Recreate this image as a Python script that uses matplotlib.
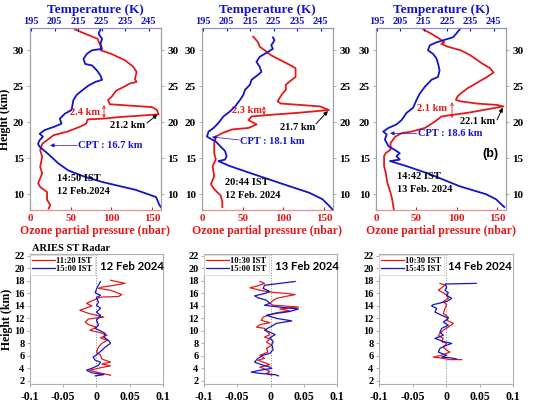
import matplotlib
matplotlib.use("Agg")
import matplotlib.pyplot as plt

plt.rcParams['font.family'] = ['Liberation Serif', 'DejaVu Serif']
plt.rcParams['font.weight'] = 'bold'

RED = '#e41a1a'
BLUE = '#1414c8'
SP = '#a0a0a0'

# ---------------- top panels: ozone (nbar) and temperature (K) profiles ----------------
p1_oz_h = [32.9, 31.6, 30.5, 30.0, 29.5, 28.6, 27.7, 27.0, 26.0, 25.6, 25.4, 24.9, 24.4, 23.5, 23.1, 22.5,
           22.1, 21.7, 21.1, 20.7, 20.5, 20.4, 19.8, 19.4, 18.7, 18.2, 17.5, 17.0, 16.1, 15.2, 13.8, 12.9,
           11.5, 11.0, 10.3, 9.2, 8.5, 8.0]
p1_oz = [55, 83, 87, 87, 100, 117, 127, 131, 129, 131, 123, 115, 106, 100, 96, 98,
         150, 156, 158, 108, 90, 71, 69, 62, 46, 29, 21, 15, 12.5, 15, 12.5, 15,
         10, 12.5, 21, 21, 25, 23]
p1_t_h = [32.9, 32.3, 31.6, 30.9, 30.2, 30.0, 29.5, 28.8, 28.1, 27.9, 27.2, 26.5, 25.9, 25.6, 25.1, 24.4,
          23.8, 23.1, 21.7, 21.2, 20.5, 19.8, 19.4, 18.9, 18.4, 18.0, 17.5, 17.0, 16.6, 15.6, 14.3, 13.3,
          12.4, 11.7, 10.6, 9.6, 8.5, 8.0]
p1_t = [224.5, 223.7, 225.2, 224.5, 225.2, 220.9, 218.7, 217.3, 218.0, 220.9, 223.0, 224.5, 225.2, 222.3, 219.4, 216.6,
        214.4, 213.0, 212.2, 209.4, 207.2, 207.9, 205.0, 200.7, 198.6, 200.0, 198.6, 197.9, 198.6, 202.2, 206.5, 210.8,
        218.0, 225.2, 239.5, 248.2, 249.6, 250.7]

p2_oz_h = [31.9, 31.1, 30.5, 30.0, 29.3, 28.6, 27.9, 27.5, 26.3, 25.6, 25.2, 24.5, 24.0, 23.3, 22.9, 22.6,
           22.2, 21.7, 21.3, 21.0, 20.8, 20.3, 19.7, 19.2, 19.0, 18.5, 18.0, 17.1, 15.7, 14.8, 13.9, 12.5,
           11.4, 10.7, 9.8, 8.9, 8.2]
p2_oz = [63, 69, 71, 77, 85, 97, 109, 115, 115, 107, 103, 103, 99, 95, 93, 97,
         145, 156, 117, 81, 61, 57, 67, 57, 37, 25, 17, 15, 15, 17, 13, 15,
         11, 15, 23, 25, 25]
p2_t_h = [31.8, 31.4, 30.7, 30.2, 29.5, 29.1, 28.4, 27.7, 27.0, 26.6, 25.9, 25.2, 24.5, 23.8, 23.1, 22.2,
          21.5, 20.8, 19.9, 19.2, 18.7, 18.0, 17.6, 17.4, 16.7, 16.0, 15.3, 14.8, 14.6, 13.9, 12.8, 11.4,
          10.2, 9.3, 8.4, 7.9]
p2_t = [224.7, 225.4, 224.0, 224.7, 221.2, 219.1, 217.7, 219.1, 219.8, 218.4, 215.6, 214.9, 212.8, 212.1, 210.7, 208.6,
        206.4, 203.6, 201.5, 199.4, 197.3, 196.6, 198.7, 200.1, 202.2, 204.3, 205.0, 204.3, 201.5, 206.4, 216.3, 229.0,
        240.2, 245.8, 248.6, 250.0]

p3_oz_h = [32.9, 32.3, 31.6, 31.1, 30.9, 30.5, 30.0, 29.3, 28.2, 27.5, 26.9, 26.3, 25.9, 25.2, 24.7, 24.0,
           23.6, 23.1, 22.9, 22.6, 22.4, 22.2, 21.7, 21.3, 21.0, 20.8, 20.1, 19.2, 18.7, 18.5, 18.0, 17.1,
           16.2, 15.7, 15.3, 13.9, 13.0, 11.6, 10.2, 9.3, 7.9]
p3_oz = [58.5, 68.6, 78.7, 84.8, 80.8, 88.9, 105, 117, 131, 141.5, 145.6, 137.5, 131.4, 121, 113, 105,
         101, 99, 105, 125, 150, 157.7, 133, 113, 93, 81, 73, 60.5, 44, 32, 24, 18,
         18, 12, 10, 10, 12, 14, 18, 20, 22]
p3_t_h = [32.9, 32.3, 31.8, 31.6, 31.1, 30.7, 30.0, 29.5, 28.9, 28.2, 27.2, 26.3, 25.9, 24.9, 24.0, 23.1,
          22.0, 21.3, 20.3, 19.7, 19.2, 18.7, 18.3, 17.6, 16.7, 16.0, 15.7, 15.3, 14.8, 14.6, 13.9, 12.8,
          11.1, 10.0, 9.3, 8.2]
p3_t = [230.4, 228.9, 227.5, 225.4, 220.4, 217.6, 216.8, 219.0, 220.4, 221.1, 221.8, 221.1, 218.3, 215.4, 213.3, 211.9,
        210.4, 207.6, 205.5, 203.3, 199.8, 197.6, 199.1, 198.3, 199.8, 203.3, 204.7, 203.3, 204.7, 200.5, 207.6, 217.5,
        230.4, 241.7, 246.0, 249.6]

top_times = ['14:50 IST\n12 Feb.2024', '20:44 IST\n12 Feb. 2024', '14:42 IST\n13 Feb. 2024']
layer_labels = ['2.4 km', '2.3 km', '2.1 km']
peak_labels = ['21.2 km', '21.7 km', '22.1 km']
cpt_labels = ['CPT : 16.7 km', 'CPT : 18.1 km', 'CPT : 18.6 km']
peak_points = [(158, 21.2), (156, 21.7), (157.7, 22.2)]
height_ticks = [10, 15, 20, 25, 30]
oz_ticks = [0, 50, 100, 150]
t_ticks = [195, 205, 215, 225, 235, 245]

# ---------------- bottom panels: ARIES ST radar ----------------
b1_red_h = [18.1, 17.6, 17.2, 17.0, 16.8, 16.5, 16.1, 15.8, 15.5, 15.4, 14.9, 14.4, 14.0, 13.3, 12.8, 12.5,
            12.2, 11.9, 11.4, 11.0, 10.6, 10.1, 9.7, 9.3, 8.9, 8.5, 8.0, 7.4, 6.6, 6.1, 5.5, 5.0,
            4.7, 4.4, 4.1, 3.7, 3.4, 2.9]
b1_red = [0.021, 0.043, 0.021, 0.008, 0.003, 0.021, 0.031, 0.038, 0.033, 0.006, -0.005, -0.015, -0.007, -0.025, -0.012, 0.0,
          0.011, -0.012, -0.017, -0.012, 0.0, -0.010, 0.006, 0.016, 0.006, 0.016, 0.008, 0.003, 0.0, 0.006, 0.008, 0.021,
          0.008, 0.021, 0.006, -0.010, 0.0, 0.021]
b1_blue_h = [17.9, 17.3, 16.7, 16.1, 15.7, 15.3, 14.6, 14.1, 13.6, 13.0, 12.5, 11.7, 10.9, 10.4, 10.0, 9.6,
             9.0, 8.5, 8.0, 7.4, 6.9, 6.4, 5.8, 5.3, 5.0, 4.5, 4.1, 3.7, 3.3, 3.0, 2.8]
b1_blue = [0.006, 0.003, 0.0, -0.002, 0.006, 0.0, 0.003, 0.0, 0.006, 0.0, 0.006, 0.0, 0.003, -0.002, 0.006, 0.013,
           0.011, 0.018, 0.021, 0.013, 0.008, 0.003, -0.005, -0.002, 0.006, 0.003, -0.005, -0.015, -0.007, 0.011, -0.002]

b2_red_h = [17.9, 17.6, 17.2, 16.9, 16.5, 16.3, 16.1, 16.0, 15.8, 15.5, 15.2, 14.7, 14.4, 14.1, 14.0, 13.8,
            13.5, 13.2, 12.9, 12.6, 12.2, 11.7, 11.3, 11.0, 10.6, 10.4, 9.8, 9.4, 9.0, 8.7, 8.2, 7.7,
            7.2, 6.6, 6.1, 5.6, 5.3, 5.0, 4.6, 4.2, 3.9, 3.5, 3.2, 2.9]
b2_red = [-0.016, -0.009, -0.019, -0.031, -0.016, -0.006, 0.009, 0.024, 0.037, 0.022, 0.009, 0.002, -0.001, 0.004, 0.019, 0.042,
          0.014, 0.029, 0.009, -0.001, -0.011, -0.014, -0.001, -0.016, -0.021, -0.009, -0.004, -0.001, -0.009, -0.001, -0.006, 0.002,
          -0.006, -0.004, -0.016, -0.009, -0.019, -0.011, -0.001, -0.016, -0.009, -0.001, -0.006, 0.002]
b2_blue_h = [17.9, 17.6, 17.3, 16.8, 16.3, 16.0, 15.6, 15.3, 14.9, 14.4, 14.1, 13.8, 13.5, 13.1, 12.8, 12.5,
             12.0, 11.6, 11.2, 10.6, 10.1, 9.8, 9.4, 8.9, 8.3, 7.8, 7.0, 6.4, 6.1, 5.6, 5.0, 4.5,
             4.2, 4.0, 3.7, 3.4, 3.2, 3.0, 2.8]
b2_blue = [0.037, 0.014, -0.009, -0.011, -0.001, -0.008, -0.024, -0.019, -0.006, -0.001, -0.009, 0.014, 0.042, 0.029, 0.009, -0.006,
           0.009, 0.032, 0.009, -0.001, -0.009, -0.001, 0.007, -0.001, 0.004, 0.002, 0.004, -0.001, -0.011, -0.019, -0.024, -0.011,
           -0.001, 0.002, -0.016, -0.029, -0.016, 0.007, 0.012]

b3_red_h = [17.6, 17.3, 16.9, 16.5, 16.1, 15.7, 15.2, 14.7, 14.2, 13.6, 12.8, 12.2, 11.7, 11.2, 10.6, 10.1,
            9.6, 9.2, 8.8, 8.3, 8.0, 7.4, 6.9, 6.6, 6.4, 6.1, 5.8, 5.6, 5.4, 5.4]
b3_red = [-0.009, -0.0015, -0.0065, -0.0115, -0.004, 0.001, 0.0035, -0.004, 0.001, -0.0015, -0.004, 0.0035, 0.001, 0.011, 0.0035, -0.004,
          -0.009, -0.0115, -0.004, -0.0065, 0.001, -0.004, 0.001, 0.006, 0.001, -0.0065, -0.019, -0.004, 0.006, 0.0235]
b3_blue_h = [17.6, 17.5, 17.0, 16.5, 16.1, 15.7, 15.2, 14.7, 14.2, 14.0, 13.6, 13.0, 12.5, 12.0, 11.4, 10.9,
             10.4, 9.8, 9.3, 8.8, 8.3, 8.0, 7.6, 7.2, 6.6, 6.1, 5.8, 5.7, 5.5]
b3_blue = [0.045, -0.0015, 0.001, -0.0015, 0.0035, 0.001, 0.0085, 0.001, -0.019, -0.0215, -0.014, -0.0165, -0.0065, 0.0035, -0.004, 0.0035,
           -0.0065, -0.009, -0.004, -0.0165, -0.004, 0.0085, -0.0015, -0.009, -0.0115, 0.001, -0.0065, 0.006, 0.016]

bottom_dates = ['12 Feb 2024', '13 Feb 2024', '14 Feb 2024']
bottom_legends = [('11:20 IST', '15:00 IST'), ('10:30 IST', '15:00 IST'), ('10:30 IST', '15:45 IST')]
bh_ticks = [2, 4, 6, 8, 10, 12, 14, 16, 18, 20, 22]
bx_ticks = [-0.1, -0.05, 0, 0.05, 0.1]
bx_labels = ['-0.1', '-0.05', '0', '0.05', '0.1']

W, H = 533, 404
fig = plt.figure(figsize=(W / 100, H / 100), dpi=100)


def rect(x0, x1, ytop, ybot):
    return [x0 / W, 1 - ybot / H, (x1 - x0) / W, (ybot - ytop) / H]


top_rects = [rect(30, 161, 28, 210), rect(202, 333, 28, 210), rect(376, 506, 28, 210)]
top_data = [(p1_oz_h, p1_oz, p1_t_h, p1_t), (p2_oz_h, p2_oz, p2_t_h, p2_t), (p3_oz_h, p3_oz, p3_t_h, p3_t)]

# annotation layout (axes fractions)
lay_txt = [(0.534, 0.538), (0.458, 0.549), (0.546, 0.560)]
lay_arr = [(0.565, 0.577, 0.505), (0.473, 0.571, 0.522), (0.585, 0.593, 0.505)]
peak_txt = [(0.611, 0.462), (0.595, 0.456), (0.646, 0.484)]
peak_from = [(0.893, 0.478), (0.870, 0.473), (0.931, 0.495)]
cpt_txt = [(0.366, 0.352), (0.29, 0.379), (0.323, 0.418)]
cpt_arr = [((0.359, 0.355), (0.153, 0.355)), ((0.285, 0.385), (0.076, 0.401)), ((0.313, 0.421), (0.108, 0.421))]
time_txt = [(0.206, 0.137), (0.176, 0.115), (0.162, 0.148)]

fs = 7.5
for i in range(3):
    oh, ov, th, tv = top_data[i]
    ax = fig.add_axes(top_rects[i])
    ax.plot(ov, oh, color=RED, lw=1.3)
    ax.set_xlim(3, 161)
    ax.set_ylim(7.8, 33.1)
    ax.set_xticks(oz_ticks)
    ax.set_yticks(height_ticks)
    ax.tick_params(axis='x', colors=RED, labelsize=8, direction='in', length=2, pad=3)
    ax.tick_params(axis='y', labelsize=8, left=True, right=True, labelleft=True, labelright=True,
                   length=2.5, width=0.6, pad=2, color=SP)
    for lab in ax.get_xticklabels() + ax.get_yticklabels():
        lab.set_fontweight('bold')
    ax.set_xlabel('Ozone partial pressure (nbar)', color=RED, fontsize=8.5, fontweight='bold', labelpad=1.5)
    if i == 0:
        ax.set_ylabel('Height (km)', fontsize=8.5, fontweight='bold', labelpad=1)
    for s in ['left', 'right']:
        ax.spines[s].set_color(SP)
    ax.spines['bottom'].set_color('#e89090')
    ax.spines['top'].set_color('#9090d0')

    axt = ax.twiny()
    axt.plot(tv, th, color=BLUE, lw=1.3)
    axt.set_xlim(194.5, 250.3)
    axt.set_xticks(t_ticks)
    axt.tick_params(axis='x', colors=BLUE, labelsize=fs, direction='in', length=2, pad=1.5)
    for lab in axt.get_xticklabels():
        lab.set_fontweight('bold')
    axt.set_xlabel('Temperature (K)', color=BLUE, fontsize=9.5, fontweight='bold', labelpad=2.5)
    axt.spines['top'].set_color('#9090d0')
    axt.spines['bottom'].set_color('#e89090')
    for s in ['left', 'right']:
        axt.spines[s].set_color(SP)

    # annotations
    axt.text(*lay_txt[i], layer_labels[i], transform=ax.transAxes, color=RED, fontsize=fs,
             fontweight='bold', ha='right', va='center')
    xa, y1, y2 = lay_arr[i]
    axt.annotate('', xy=(xa, y1), xytext=(xa, y2), xycoords=ax.transAxes, textcoords=ax.transAxes,
                 arrowprops=dict(arrowstyle='<->', color=RED, lw=0.6, mutation_scale=5,
                                 shrinkA=0, shrinkB=0))
    axt.text(*peak_txt[i], peak_labels[i], transform=ax.transAxes, color='black', fontsize=fs,
             fontweight='bold', ha='left', va='center')
    px, py = peak_points[i]
    pxf = (px - 3) / (161 - 3)
    pyf = (py - 7.8) / (33.1 - 7.8)
    axt.annotate('', xy=(pxf, pyf), xytext=peak_from[i], xycoords=ax.transAxes, textcoords=ax.transAxes,
                 arrowprops=dict(arrowstyle='-|>', color='black', lw=0.7, mutation_scale=6,
                                 shrinkA=0, shrinkB=1))
    axt.text(*cpt_txt[i], cpt_labels[i], transform=ax.transAxes, color=BLUE, fontsize=fs,
             fontweight='bold', ha='left', va='center')
    (ax0, ay0), (ax1, ay1) = cpt_arr[i]
    axt.annotate('', xy=(ax1, ay1), xytext=(ax0, ay0), xycoords=ax.transAxes, textcoords=ax.transAxes,
                 arrowprops=dict(arrowstyle='-|>', color=BLUE, lw=0.5, mutation_scale=6,
                                 shrinkA=0, shrinkB=0))
    axt.text(*time_txt[i], top_times[i], transform=ax.transAxes, color='black', fontsize=fs,
             fontweight='bold', ha='left', va='center', linespacing=1.5)
    if i == 2:
        axt.text(0.877, 0.308, '(b)', transform=ax.transAxes, fontsize=9, fontweight='bold',
                 family=['Liberation Sans', 'DejaVu Sans'], ha='center', va='center')

bot_rects = [rect(30, 163, 254, 384), rect(204, 337, 254, 384), rect(379, 513, 254, 384)]
bot_data = [(b1_red_h, b1_red, b1_blue_h, b1_blue), (b2_red_h, b2_red, b2_blue_h, b2_blue),
            (b3_red_h, b3_red, b3_blue_h, b3_blue)]
date_pos = [(0.526, 0.905), (0.534, 0.905), (0.515, 0.90)]
for i in range(3):
    rh, rv, bh, bv = bot_data[i]
    ax = fig.add_axes(bot_rects[i])
    ax.axvline(0, color='#888888', lw=0.7, ls=':')
    ax.plot(rv, rh, color=RED, lw=0.9, label=bottom_legends[i][0])
    ax.plot(bv, bh, color=BLUE, lw=0.9, label=bottom_legends[i][1])
    ax.set_xlim(-0.1, 0.1)
    ax.set_ylim(1.5, 22.3)
    ax.set_yticks(bh_ticks)
    ax.set_xticks(bx_ticks)
    ax.set_xticklabels(bx_labels)
    ax.tick_params(axis='y', labelsize=fs, length=2, width=0.6, color=SP, pad=2)
    ax.tick_params(axis='x', labelsize=8.5, length=2, width=0.6, color=SP, pad=3)
    for lab in ax.get_xticklabels() + ax.get_yticklabels():
        lab.set_fontweight('bold')
    for s in ax.spines.values():
        s.set_color('#b0b0b0')
    if i == 0:
        ax.set_ylabel('Height (km)', fontsize=8.5, fontweight='bold', labelpad=1)
        ax.text(0.015, 1.045, 'ARIES ST Radar', transform=ax.transAxes, fontsize=fs,
                fontweight='bold', ha='left', va='center')
    leg = ax.legend(loc='upper left', bbox_to_anchor=(0.0, 0.995), frameon=True, fontsize=6.2,
                    handlelength=2.6, handletextpad=0.2, labelspacing=0.05, borderaxespad=0.0,
                    borderpad=0.25, fancybox=False)
    leg.get_frame().set_edgecolor('#d0d0d0')
    leg.get_frame().set_linewidth(0.6)
    for t in leg.get_texts():
        t.set_fontweight('bold')
    ax.text(*date_pos[i], bottom_dates[i], transform=ax.transAxes, fontsize=8.2, fontweight='bold',
            family=['Lato', 'DejaVu Sans'], ha='left', va='center')

fig.savefig('out.png', dpi=100)
